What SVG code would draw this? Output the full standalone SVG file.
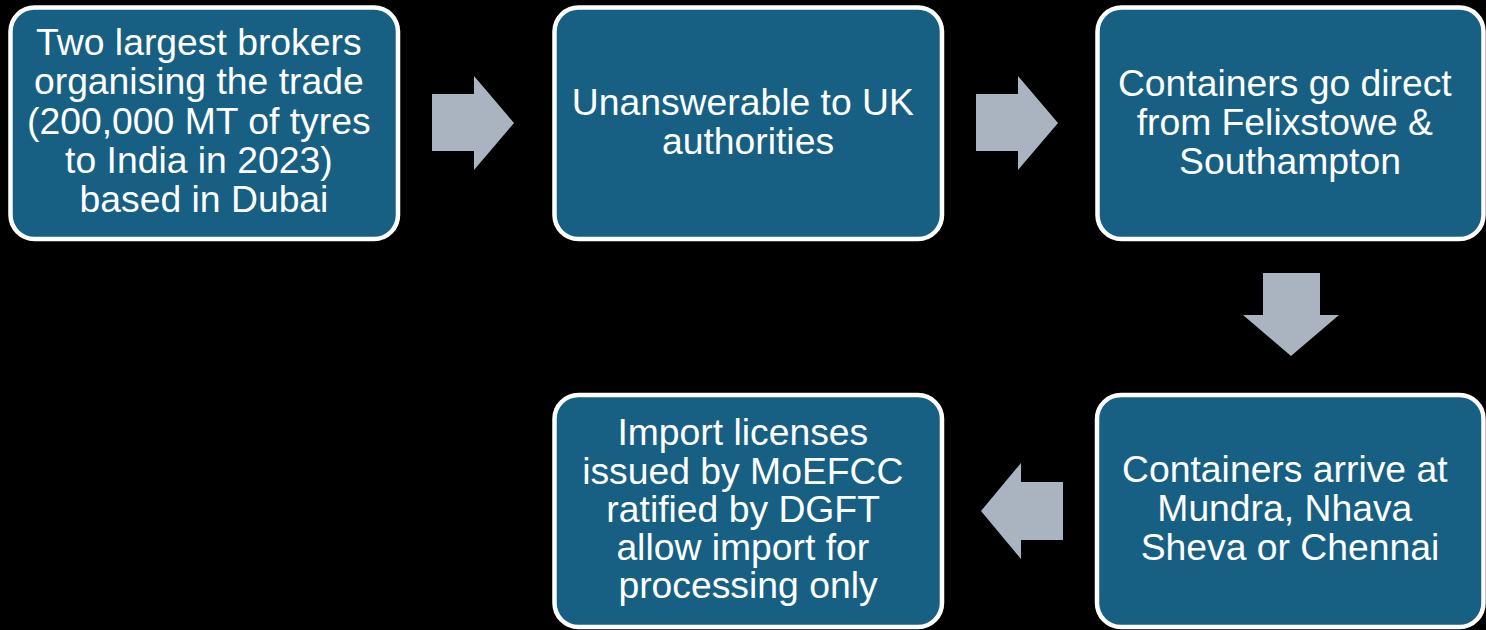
<svg xmlns="http://www.w3.org/2000/svg" width="1486" height="630" viewBox="0 0 1486 630">
  <style>
    .box { fill: #176083; stroke: #ffffff; stroke-width: 4.5; }
    .lbl { fill: #ffffff; font-family: "Liberation Sans", Arial, sans-serif; font-size: 37.3px; text-anchor: middle; }
    .arr { fill: #a9b4c0; }
  </style>
  <rect width="1486" height="630" fill="#000000"/>

  <g id="node-brokers">
    <rect class="box" x="10.5" y="7.5" width="387.5" height="231.5" rx="24"/>
    <text class="lbl">
      <tspan x="204" y="55">Two largest brokers</tspan>
      <tspan x="204" y="94">organising the trade</tspan>
      <tspan x="204" y="133.5">(200,000 MT of tyres</tspan>
      <tspan x="204" y="172.5">to India in 2023)</tspan>
      <tspan x="204" y="211.5">based in Dubai</tspan>
    </text>
  </g>

  <g id="node-unanswerable">
    <rect class="box" x="554.5" y="7.5" width="387.5" height="231.5" rx="24"/>
    <text class="lbl">
      <tspan x="748" y="115">Unanswerable to UK</tspan>
      <tspan x="748" y="154">authorities</tspan>
    </text>
  </g>

  <g id="node-containers-depart">
    <rect class="box" x="1097.5" y="7.5" width="386" height="231.5" rx="24"/>
    <text class="lbl">
      <tspan x="1290" y="96">Containers go direct</tspan>
      <tspan x="1290" y="135">from Felixstowe &amp;</tspan>
      <tspan x="1290" y="174">Southampton</tspan>
    </text>
  </g>

  <g id="node-containers-arrive">
    <rect class="box" x="1097" y="395" width="386.5" height="232" rx="24"/>
    <text class="lbl">
      <tspan x="1290" y="482">Containers arrive at</tspan>
      <tspan x="1290" y="521">Mundra, Nhava</tspan>
      <tspan x="1290" y="560">Sheva or Chennai</tspan>
    </text>
  </g>

  <g id="node-import-licenses">
    <rect class="box" x="554.5" y="395" width="387.5" height="232" rx="24"/>
    <text class="lbl">
      <tspan x="748" y="445">Import licenses</tspan>
      <tspan x="748" y="483.5">issued by MoEFCC</tspan>
      <tspan x="748" y="522">ratified by DGFT</tspan>
      <tspan x="748" y="560">allow import for</tspan>
      <tspan x="748" y="598">processing only</tspan>
    </text>
  </g>

  <g id="connectors">
    <!-- block arrows between steps -->
    <polygon class="arr" points="432,94 474,94 474,76 514,123 474,170 474,151 432,151"/>
    <polygon class="arr" points="976,94 1018,94 1018,76 1058,123 1018,170 1018,151 976,151"/>
    <polygon class="arr" points="1263,273 1320,273 1320,315 1339,315 1291,356 1243,315 1263,315"/>
    <polygon class="arr" points="1063,482 1021,482 1021,463 981,511 1021,559 1021,540 1063,540"/>
  </g>
</svg>
